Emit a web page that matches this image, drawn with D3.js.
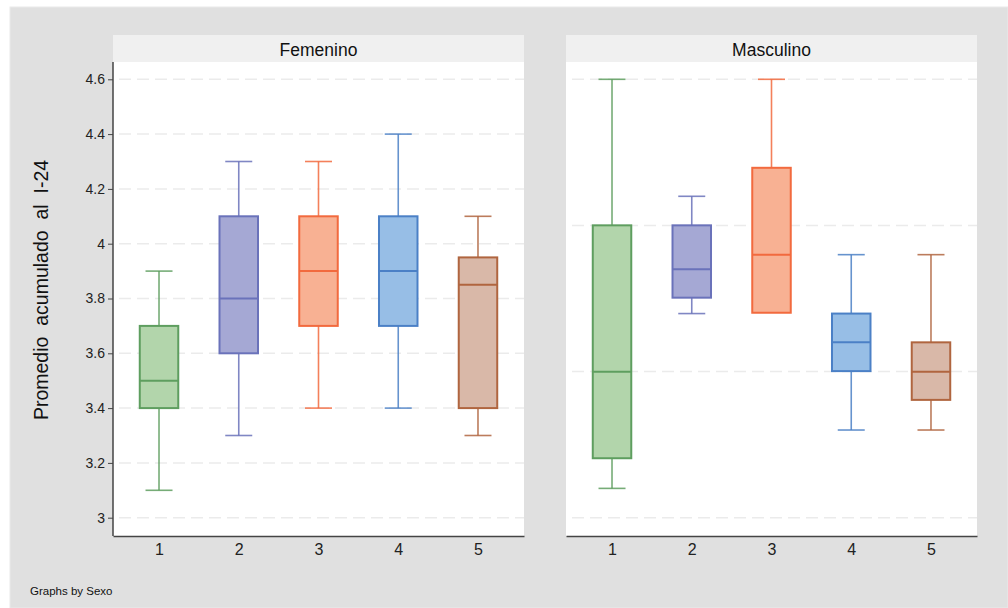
<!DOCTYPE html>
<html>
<head>
<meta charset="utf-8">
<script src="https://cdn.jsdelivr.net/npm/d3@7"></script>
<style>
  html, body { margin: 0; padding: 0; background: #ffffff; }
  svg { display: block; font-family: "Liberation Sans", Arial, Helvetica, sans-serif; }
</style>
</head>
<body>
<svg id="chart" width="1008" height="608"></svg>
<script>
// Groups on the x axis (same in both panels)
const groups = ["1", "2", "3", "4", "5"];
const panels = ["Femenino", "Masculino"];

// Box statistics per panel: lower whisker, Q1, median, Q3, upper whisker
const femLow    = [3.10, 3.30, 3.40, 3.40, 3.30];
const femQ1     = [3.40, 3.60, 3.70, 3.70, 3.40];
const femMedian = [3.50, 3.80, 3.90, 3.90, 3.85];
const femQ3     = [3.70, 4.10, 4.10, 4.10, 3.95];
const femHigh   = [3.90, 4.30, 4.30, 4.40, 4.10];

const masLow    = [3.107, 3.745, 3.748, 3.320, 3.320];
const masQ1     = [3.217, 3.803, 3.748, 3.535, 3.430];
const masMedian = [3.533, 3.907, 3.960, 3.640, 3.533];
const masQ3     = [4.067, 4.067, 4.277, 3.745, 3.640];
const masHigh   = [4.600, 4.173, 4.600, 3.960, 3.960];

// Y axis ticks and gridlines
const yTicks = [3, 3.2, 3.4, 3.6, 3.8, 4, 4.2, 4.4, 4.6];
const yTickLabels = ["3", "3.2", "3.4", "3.6", "3.8", "4", "4.2", "4.4", "4.6"];
const femGrid = [3, 3.2, 3.4, 3.6, 3.8, 4, 4.2, 4.4, 4.6];
const masGrid = [3, 3.5333, 4.0667, 4.6];

const fillColors   = ["#b2d5ab", "#a5a8d4", "#f8b193", "#97bee6", "#d9b8a8"];
const strokeColors = ["#5e9e5f", "#6a72ba", "#f26a3e", "#4b80c6", "#b0653f"];

const yTitle = "Promedio  acumulado  al  I-24";
const note = "Graphs by Sexo";

const svg = d3.select("#chart");

// Outer graph region
svg.append("rect").attr("x", 10).attr("y", 7).attr("width", 998).attr("height", 601)
  .attr("fill", "#e0e0e0").attr("stroke", "#eaeaea").attr("stroke-width", 1);

const plotTop = 62, plotBottom = 536;
const stripTop = 35;
const panelX = [[113, 524], [566, 977]];

const y = d3.scaleLinear().domain([3, 4.6]).range([517.7, 79.3]);

function buildRows(low, q1, med, q3, high) {
  return groups.map((g, i) => ({ g, i, low: low[i], q1: q1[i], med: med[i], q3: q3[i], high: high[i] }));
}
const panelRows = [
  buildRows(femLow, femQ1, femMedian, femQ3, femHigh),
  buildRows(masLow, masQ1, masMedian, masQ3, masHigh)
];
const panelGrids = [femGrid, masGrid];

panels.forEach((name, p) => {
  const [x0, x1] = panelX[p];
  const x = d3.scalePoint().domain(groups).range([x0, x1]).padding(0.577);
  const g = svg.append("g");

  // Plot area
  g.append("rect").attr("x", x0).attr("y", plotTop).attr("width", x1 - x0).attr("height", plotBottom - plotTop)
    .attr("fill", "#ffffff");

  // Panel strip
  g.append("rect").attr("x", x0).attr("y", stripTop).attr("width", x1 - x0).attr("height", plotTop - stripTop)
    .attr("fill", "#f0f0f0");
  g.append("text").attr("x", (x0 + x1) / 2).attr("y", 55.5).attr("text-anchor", "middle")
    .attr("font-size", 17.5).attr("fill", "#111").text(name);

  // Gridlines
  g.selectAll("line.grid").data(panelGrids[p]).enter().append("line")
    .attr("x1", x0 + 6).attr("x2", x1).attr("y1", d => y(d)).attr("y2", d => y(d))
    .attr("stroke", "#ebebeb").attr("stroke-width", 1.5).attr("stroke-dasharray", "12,6");

  const w = 38.5, cap = 27;
  const rows = panelRows[p];
  const bx = g.selectAll("g.box").data(rows).enter().append("g");

  // Whiskers
  bx.append("line").attr("x1", d => x(d.g)).attr("x2", d => x(d.g))
    .attr("y1", d => y(d.high)).attr("y2", d => y(d.q3))
    .attr("stroke", d => strokeColors[d.i]).attr("stroke-width", 1.6).attr("stroke-opacity", 0.85);
  bx.append("line").attr("x1", d => x(d.g)).attr("x2", d => x(d.g))
    .attr("y1", d => y(d.q1)).attr("y2", d => y(d.low))
    .attr("stroke", d => strokeColors[d.i]).attr("stroke-width", 1.6).attr("stroke-opacity", 0.85);
  // Whisker caps
  bx.filter(d => d.high > d.q3).append("line")
    .attr("x1", d => x(d.g) - cap / 2).attr("x2", d => x(d.g) + cap / 2)
    .attr("y1", d => y(d.high)).attr("y2", d => y(d.high))
    .attr("stroke", d => strokeColors[d.i]).attr("stroke-width", 1.6).attr("stroke-opacity", 0.85);
  bx.filter(d => d.low < d.q1).append("line")
    .attr("x1", d => x(d.g) - cap / 2).attr("x2", d => x(d.g) + cap / 2)
    .attr("y1", d => y(d.low)).attr("y2", d => y(d.low))
    .attr("stroke", d => strokeColors[d.i]).attr("stroke-width", 1.6).attr("stroke-opacity", 0.85);

  // Boxes
  bx.append("rect").attr("x", d => x(d.g) - w / 2).attr("width", w)
    .attr("y", d => y(d.q3)).attr("height", d => y(d.q1) - y(d.q3))
    .attr("fill", d => fillColors[d.i]).attr("stroke", d => strokeColors[d.i]).attr("stroke-width", 2);
  // Medians
  bx.append("line").attr("x1", d => x(d.g) - w / 2).attr("x2", d => x(d.g) + w / 2)
    .attr("y1", d => y(d.med)).attr("y2", d => y(d.med))
    .attr("stroke", d => strokeColors[d.i]).attr("stroke-width", 2);

  // X axis
  const xAxis = d3.axisBottom(x).tickSize(0).tickPadding(8);
  const ax = g.append("g").attr("transform", `translate(0,${plotBottom})`).call(xAxis);
  ax.select(".domain").attr("stroke", "#444").attr("stroke-width", 1.5);
  ax.selectAll("text").attr("font-size", 16).attr("fill", "#222")
    .attr("font-family", "'Liberation Sans', Arial, sans-serif");

  // Y axis on the first panel only
  if (p === 0) {
    const yAxis = d3.axisLeft(y).tickValues(yTicks).tickSize(5).tickPadding(3)
      .tickFormat((d, i) => yTickLabels[i]);
    const ay = g.append("g").attr("transform", `translate(${x0},0)`).call(yAxis);
    ay.select(".domain").remove();
    ay.append("line").attr("x1", 0).attr("x2", 0).attr("y1", plotTop).attr("y2", plotBottom)
      .attr("stroke", "#444").attr("stroke-width", 1.5);
    ay.selectAll(".tick line").attr("stroke", "#444");
    ay.selectAll("text").attr("font-size", 14).attr("fill", "#222")
      .attr("font-family", "'Liberation Sans', Arial, sans-serif");
  }
});

// Y axis title
svg.append("text").attr("transform", "translate(48,290) rotate(-90)")
  .attr("text-anchor", "middle").attr("font-size", 19.5).attr("fill", "#111")
  .style("white-space", "pre").text(yTitle);

// Note
svg.append("text").attr("x", 30).attr("y", 595).attr("font-size", 11.5).attr("fill", "#111").text(note);
</script>
</body>
</html>
